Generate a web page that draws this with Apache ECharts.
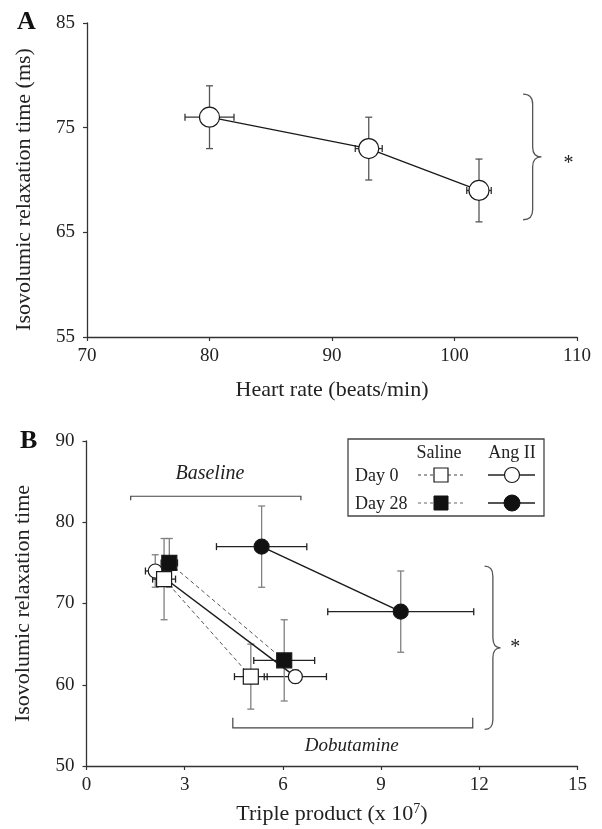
<!DOCTYPE html>
<html><head><meta charset="utf-8">
<script src="https://cdn.jsdelivr.net/npm/echarts@6/dist/echarts.min.js"></script>
<style>html,body{margin:0;padding:0;background:#fff}#c{width:602px;height:829px}</style>
</head><body><div id="c"></div>
<script>
// ---------- Panel A data ----------
const hrA      = [80, 93, 102];
const hrErrA   = [2, 1.1, 1];
const ivrtA    = [76, 73, 69];
const ivrtErrA = [3, 3, 3];
const xTicksA  = [70, 80, 90, 100, 110];
const yTicksA  = [55, 65, 75, 85];

// ---------- Panel B data ----------
const tpSalD0   = [2.37, 5.02];
const tpErrSalD0= [0.35, 0.5];
const irSalD0   = [73, 61];
const irErrSalD0= [5, 4];

const tpSalD28   = [2.53, 6.04];
const tpErrSalD28= [0.25, 0.93];
const irSalD28   = [75, 63];
const irErrSalD28= [3, 5];

const tpAngD0   = [2.1, 6.38];
const tpErrAngD0= [0.3, 0.95];
const irAngD0   = [74, 61];
const irErrAngD0= [2, 0.8];

const tpAngD28   = [5.35, 9.6];
const tpErrAngD28= [1.38, 2.23];
const irAngD28   = [77, 69];
const irErrAngD28= [5, 5];

const xTicksB = [0, 3, 6, 9, 12, 15];
const yTicksB = [50, 60, 70, 80, 90];

// ---------- Annotations (data units) ----------
const braceA = [[105.6, 78.2, 66.2, 107.1]];   // xLeft, yTop, yBottom, xTip
const starA  = [[109.3, 71.6]];
const braceB = [[12.16, 74.6, 54.5, 12.65]];
const starB  = [[13.1, 64.5]];
const bracketBaseline   = [[1.35, 6.55, 83.2]]; // x1, x2, y
const bracketDobutamine = [[4.47, 11.8, 54.7]];
const textBaseline   = [[3.77, 86.0]];
const textDobutamine = [[8.1, 52.5]];

const serif = '"Liberation Serif", "Times New Roman", serif';
const pairs = (xs, ys) => xs.map((x, i) => [x, ys[i]]);

function axis(gi, min, max, ticks, margin, extra) {
  return Object.assign({
    type: 'value', gridIndex: gi, min, max,
    axisLine: {show: true, onZero: false, lineStyle: {color: '#333', width: 1.3}},
    axisTick: {show: true, length: 4, customValues: ticks, lineStyle: {color: '#333', width: 1.2}},
    axisLabel: {customValues: ticks, margin, fontFamily: serif, fontSize: 19, color: '#222'},
    splitLine: {show: false},
    nameLocation: 'middle',
    nameTextStyle: {fontFamily: serif, fontSize: 22, color: '#222'}
  }, extra);
}

function errSeries(gi, xs, xe, ys, ye, hColor, vColor) {
  return {
    type: 'custom', xAxisIndex: gi, yAxisIndex: gi, z: 2, silent: true,
    data: xs.map((x, i) => [x, ys[i], xe[i], ye[i]]),
    encode: {x: 0, y: 1},
    renderItem(params, api) {
      const x = api.value(0), y = api.value(1), dx = api.value(2), dy = api.value(3);
      const c = 3.5, ch = [];
      const L = api.coord([x - dx, y]), R = api.coord([x + dx, y]);
      const T = api.coord([x, y + dy]), B = api.coord([x, y - dy]);
      const hs = {stroke: hColor, lineWidth: 1.3}, vs = {stroke: vColor, lineWidth: 1.3};
      const ln = (x1, y1, x2, y2, s) => ({type: 'line', shape: {x1, y1, x2, y2}, style: s});
      ch.push(ln(L[0], L[1], R[0], R[1], hs), ln(L[0], L[1] - c, L[0], L[1] + c, hs), ln(R[0], R[1] - c, R[0], R[1] + c, hs));
      ch.push(ln(T[0], T[1], B[0], B[1], vs), ln(T[0] - c, T[1], T[0] + c, T[1], vs), ln(B[0] - c, B[1], B[0] + c, B[1], vs));
      return {type: 'group', children: ch};
    }
  };
}

function lineSeries(gi, xs, ys, symbol, size, fill, lineStyle, z) {
  return {
    type: 'line', xAxisIndex: gi, yAxisIndex: gi, z: z || 3,
    data: pairs(xs, ys), symbol, symbolSize: size, showSymbol: true,
    itemStyle: {color: fill, borderColor: '#1a1a1a', borderWidth: 1.2},
    lineStyle, emphasis: {disabled: true}, animation: false
  };
}

function braceSeries(gi, data) {
  return {
    type: 'custom', xAxisIndex: gi, yAxisIndex: gi, z: 1, silent: true, data,
    renderItem(params, api) {
      const xl = api.value(0), yt = api.value(1), yb = api.value(2), xt = api.value(3);
      const P = api.coord([xl, yt]), Q = api.coord([xl, yb]);
      const tip = api.coord([xt, (yt + yb) / 2]);
      const x0 = P[0], xm = x0 + (tip[0] - x0) * 0.52, r = 10;
      const yT = P[1], yB = Q[1], yM = tip[1];
      const d = `M${x0},${yT} Q${xm},${yT} ${xm},${yT + r} L${xm},${yM - r} Q${xm},${yM} ${tip[0]},${yM} ` +
                `Q${xm},${yM} ${xm},${yM + r} L${xm},${yB - r} Q${xm},${yB} ${x0},${yB}`;
      return {type: 'path', shape: {pathData: d}, style: {fill: 'none', stroke: '#555', lineWidth: 1.3}};
    }
  };
}

function bracketSeries(gi, data, tickLen) {
  return {
    type: 'custom', xAxisIndex: gi, yAxisIndex: gi, z: 1, silent: true, data,
    renderItem(params, api) {
      const A = api.coord([api.value(0), api.value(2)]), B = api.coord([api.value(1), api.value(2)]);
      return {type: 'polyline', shape: {points: [[A[0], A[1] + tickLen], A, B, [B[0], B[1] + tickLen]]},
              style: {fill: 'none', stroke: '#444', lineWidth: 1.2}};
    }
  };
}

function textSeries(gi, data, label, font) {
  return {
    type: 'custom', xAxisIndex: gi, yAxisIndex: gi, z: 4, silent: true, data,
    renderItem(params, api) {
      const p = api.coord([api.value(0), api.value(1)]);
      return {type: 'text', x: p[0], y: p[1],
              style: {text: label, font, fill: '#222', align: 'center', verticalAlign: 'middle'}};
    }
  };
}

const lineSolid = {color: '#1a1a1a', width: 1.5};
const lineDash  = {color: '#555', width: 1, type: [4, 3]};

const option = {
  animation: false,
  backgroundColor: '#fff',
  grid: [
    {left: 87, top: 23, width: 490, height: 314, outerBoundsMode: 'none'},
    {left: 86.5, top: 441, width: 491, height: 325, outerBoundsMode: 'none'}
  ],
  xAxis: [
    axis(0, 70, 110, xTicksA, 10, {interval: 10, name: 'Heart rate (beats/min)', nameGap: 42}),
    axis(1, 0, 15, xTicksB, 10, {interval: 3, name: 'Triple product (x 10{sup|7})', nameGap: 36,
      nameTextStyle: {fontFamily: serif, fontSize: 22, color: '#222',
        rich: {sup: {fontFamily: serif, fontSize: 14, color: '#222', verticalAlign: 'bottom', padding: [0, 0, 10, 0]}}}})
  ],
  yAxis: [
    axis(0, 55, 85, yTicksA, 12, {interval: 5, name: 'Isovolumic relaxation time (ms)', nameGap: 52,
      nameTextStyle: {fontFamily: serif, fontSize: 22, color: '#222', padding: [0, 19, 0, 0]}}),
    axis(1, 50, 90, yTicksB, 12, {interval: 10, name: 'Isovolumic relaxation time', nameGap: 52})
  ],
  graphic: [
    {type: 'text', left: 17, top: 9, style: {text: 'A', font: 'bold 26px ' + serif, fill: '#111'}},
    {type: 'text', left: 20, top: 428, style: {text: 'B', font: 'bold 26px ' + serif, fill: '#111'}},
    {type: 'group', children: [
      {type: 'rect', shape: {x: 348, y: 439, width: 196, height: 77}, style: {fill: '#fff', stroke: '#444', lineWidth: 1.3}},
      {type: 'text', x: 439, y: 453, style: {text: 'Saline', font: '18px ' + serif, fill: '#222', align: 'center', verticalAlign: 'middle'}},
      {type: 'text', x: 512, y: 453, style: {text: 'Ang II', font: '18px ' + serif, fill: '#222', align: 'center', verticalAlign: 'middle'}},
      {type: 'text', x: 355, y: 476, style: {text: 'Day 0', font: '18px ' + serif, fill: '#222', align: 'left', verticalAlign: 'middle'}},
      {type: 'text', x: 355, y: 504, style: {text: 'Day 28', font: '18px ' + serif, fill: '#222', align: 'left', verticalAlign: 'middle'}},
      {type: 'line', shape: {x1: 418, y1: 475, x2: 464, y2: 475}, style: {stroke: '#444', lineWidth: 1, lineDash: [3, 3]}},
      {type: 'rect', shape: {x: 434, y: 468, width: 14, height: 14}, style: {fill: '#fff', stroke: '#1a1a1a', lineWidth: 1.2}},
      {type: 'line', shape: {x1: 418, y1: 503, x2: 464, y2: 503}, style: {stroke: '#666', lineWidth: 1, lineDash: [3, 3]}},
      {type: 'rect', shape: {x: 434, y: 496, width: 14, height: 14}, style: {fill: '#111', stroke: '#111', lineWidth: 1}},
      {type: 'line', shape: {x1: 488, y1: 475, x2: 535, y2: 475}, style: {stroke: '#222', lineWidth: 1.3}},
      {type: 'circle', shape: {cx: 512, cy: 475, r: 7.5}, style: {fill: '#fff', stroke: '#1a1a1a', lineWidth: 1.2}},
      {type: 'line', shape: {x1: 488, y1: 503, x2: 535, y2: 503}, style: {stroke: '#555', lineWidth: 1.8}},
      {type: 'circle', shape: {cx: 512, cy: 503, r: 8}, style: {fill: '#111', stroke: '#111', lineWidth: 1}}
    ]}
  ],
  series: [
    // Panel A
    errSeries(0, hrA, hrErrA, ivrtA, ivrtErrA, '#333', '#555'),
    lineSeries(0, hrA, ivrtA, 'circle', 20, '#fff', {color: '#1a1a1a', width: 1.3}),
    braceSeries(0, braceA),
    textSeries(0, starA, '*', '20px ' + serif),
    // Panel B
    errSeries(1, tpAngD28, tpErrAngD28, irAngD28, irErrAngD28, '#222', '#808080'),
    errSeries(1, tpAngD0, tpErrAngD0, irAngD0, irErrAngD0, '#222', '#808080'),
    errSeries(1, tpSalD28, tpErrSalD28, irSalD28, irErrSalD28, '#222', '#808080'),
    errSeries(1, tpSalD0, tpErrSalD0, irSalD0, irErrSalD0, '#222', '#808080'),
    lineSeries(1, tpAngD28, irAngD28, 'circle', 15, '#111', lineSolid, 3),
    lineSeries(1, tpAngD0, irAngD0, 'circle', 14, '#fff', lineSolid, 3),
    lineSeries(1, tpSalD28, irSalD28, 'rect', 15, '#111', lineDash, 4),
    lineSeries(1, tpSalD0, irSalD0, 'rect', 15, '#fff', lineDash, 5),
    braceSeries(1, braceB),
    textSeries(1, starB, '*', '20px ' + serif),
    bracketSeries(1, bracketBaseline, 4),
    bracketSeries(1, bracketDobutamine, -10),
    textSeries(1, textBaseline, 'Baseline', 'italic 20px ' + serif),
    textSeries(1, textDobutamine, 'Dobutamine', 'italic 19px ' + serif)
  ]
};

const chart = echarts.init(document.getElementById('c'), null, {renderer: 'canvas'});
chart.setOption(option);
</script>
</body></html>
